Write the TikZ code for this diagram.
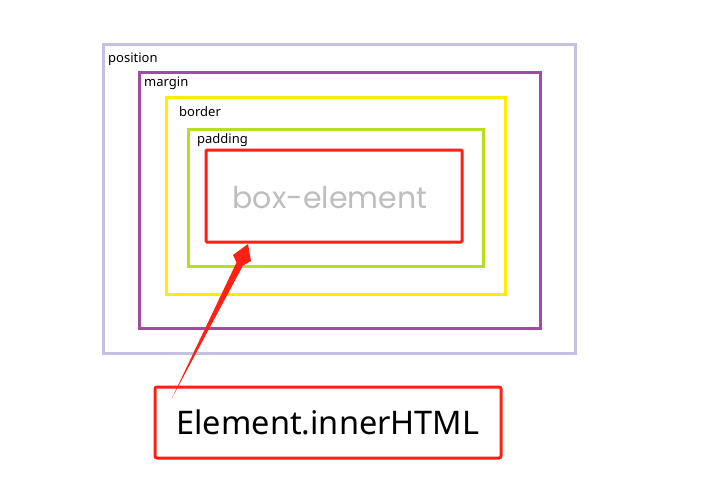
\documentclass[tikz,border=0pt]{standalone}
\usepackage{fontspec}
\setmainfont{Noto Sans}
\newfontfamily\boxfont{Poppins}
\definecolor{cpos}{RGB}{198,192,224}
\definecolor{cmar}{RGB}{160,76,160}
\definecolor{cbor}{RGB}{255,238,0}
\definecolor{cpad}{RGB}{182,224,30}
\definecolor{cred}{RGB}{255,32,20}
\definecolor{cgray}{RGB}{190,190,190}
\tikzset{
  frame/.style={draw=#1, line width=3pt},
  lbl/.style={anchor=west, inner sep=0pt, font=\fontsize{13}{15}\selectfont},
}
\begin{document}
\begin{tikzpicture}[x=1pt,y=-1pt]
\useasboundingbox (0,0) rectangle (706,495);
\fill[white] (0,0) rectangle (706,495);
\draw[frame=cpos] (103,45) rectangle (575,353);
\draw[frame=cmar] (139,72) rectangle (540,328);
\draw[frame=cbor] (166,97) rectangle (505,294);
\draw[frame=cpad] (188,129) rectangle (483,266);
\draw[frame=cred, rounded corners=1pt] (206,150) rectangle (462,242);
\node[lbl] (lpos) at (108,59) {position};
\node[lbl] (lmar) at (144,83) {margin};
\node[lbl] (lbor) at (179,112) {border};
\node[lbl] (lpad) at (197,140) {padding};
\node[text=cgray, font=\boxfont\fontsize{30}{36}\selectfont, inner sep=0pt] (el) at (330,198) {box-element};
\node[draw=cred, line width=3pt, rounded corners=2pt, minimum width=346pt, minimum height=71pt, inner sep=0pt, font=\fontsize{32.5}{40}\selectfont] (inner) at (328,422.5) {Element.innerHTML};
% tapered arrow
\fill[cred] (172,398) -- (236.5,262.5) -- (233,255) -- (248,244) -- (251,261) -- (243,265.5) -- cycle;
\end{tikzpicture}
\end{document}
